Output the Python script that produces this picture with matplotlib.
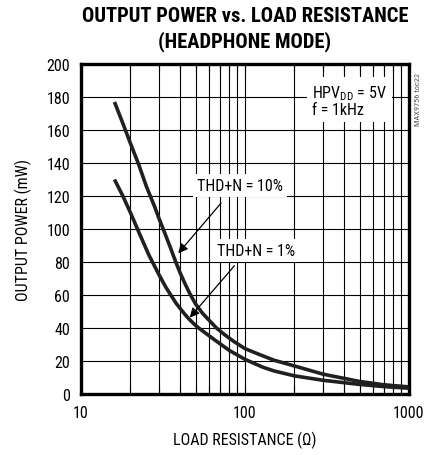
import matplotlib
matplotlib.use("Agg")
import matplotlib.pyplot as plt
from matplotlib import font_manager as fm
from matplotlib.ticker import FixedLocator, NullFormatter

# ---- data ----
R_10 = [16, 18, 20, 22.5, 25, 28, 30, 32, 35, 38, 40, 43, 46, 50, 55, 60, 67, 75, 85, 100, 122, 150, 200, 300, 500, 700, 1000]
P_10 = [177, 164, 152, 139, 126, 114, 106, 99, 89, 79.5, 74, 67, 61, 54.5, 49, 45, 40, 36, 32, 27.5, 24, 20.5, 17, 12, 7.6, 5.6, 4.3]
R_1 = [16, 18, 20, 23, 26, 30, 33, 38, 42, 45, 50, 53, 60, 67, 80, 100, 128, 150, 200, 300, 500, 700, 1000]
P_1 = [130, 120, 110, 96, 84, 72, 64.5, 55, 49.5, 46, 41.5, 39.5, 35.5, 32, 26.5, 21, 16.3, 14, 11, 8.3, 5.8, 4.5, 3.5]
y_ticks = [0, 20, 40, 60, 80, 100, 120, 140, 160, 180, 200]
x_ticks = [10, 100, 1000]
x_ticklabels = ["10", "100", "1000"]

names = {f.name for f in fm.fontManager.ttflist}
narrow = None
for cand in ["Liberation Sans Narrow", "DejaVu Sans Condensed", "Roboto Condensed"]:
    if cand in names:
        narrow = cand
        break
fam = [narrow, "DejaVu Sans"] if narrow else ["DejaVu Sans"]
plt.rcParams["font.family"] = fam
plt.rcParams["mathtext.fontset"] = "custom"
if narrow:
    plt.rcParams["mathtext.rm"] = narrow

ink = "#231f20"
fig = plt.figure(figsize=(4.26, 4.56), dpi=100)
ax = fig.add_axes([81 / 426, 1 - 395 / 456, 328 / 426, 330 / 456])

ax.set_xscale("log")
ax.set_xlim(10, 1000)
ax.set_ylim(0, 200)
ax.xaxis.set_major_locator(FixedLocator(x_ticks))
ax.set_xticklabels(x_ticklabels)
minors = [m * d for d in (10, 100) for m in range(2, 10)]
ax.xaxis.set_minor_locator(FixedLocator(minors))
ax.xaxis.set_minor_formatter(NullFormatter())
ax.yaxis.set_major_locator(FixedLocator(y_ticks))
ax.grid(True, which="both", axis="x", color="black", lw=0.8)
ax.grid(True, which="major", axis="y", color="black", lw=0.8)
ax.set_axisbelow(True)
ax.tick_params(which="both", direction="in", top=True, bottom=True, left=False, right=False,
               length=6, width=0.8, labelsize=11.5, colors="black")
ax.tick_params(axis="x", pad=8)
ax.tick_params(axis="y", pad=8)
for s in ax.spines.values():
    s.set_linewidth(2.4)

ax.plot(R_10, P_10, color=ink, lw=2.6, solid_capstyle="butt", solid_joinstyle="round", zorder=3)
ax.plot(R_1, P_1, color=ink, lw=2.6, solid_capstyle="butt", solid_joinstyle="round", zorder=3)

box = dict(boxstyle="square,pad=0.25", fc="white", ec="none")
ax.annotate("", xy=(38.2, 84), xytext=(73.3, 117),
            arrowprops=dict(arrowstyle="-|>", color="black", lw=0.9, mutation_scale=14), zorder=4)
ax.annotate("", xy=(44.9, 45), xytext=(88.4, 79),
            arrowprops=dict(arrowstyle="-|>", color="black", lw=0.9, mutation_scale=14), zorder=4)
ax.text(92.7, 126.6, "THD+N = 10%", ha="center", va="center", fontsize=11.5, bbox=box, zorder=5)
ax.text(117.5, 87, "THD+N = 1%", ha="center", va="center", fontsize=11.5, bbox=box, zorder=5)

ax.text((312 - 81) / 328, 0.94, "HPV$_{\\mathrm{DD}}$ = 5V\nf = 1kHz", transform=ax.transAxes,
        ha="left", va="top", fontsize=11.5, linespacing=1.0, multialignment="left",
        bbox=dict(boxstyle="square,pad=0.3", fc="white", ec="none"), zorder=5)

fig.text(418 / 426, 1 - 100 / 456, "MAX9756 toc22", rotation=90, ha="center", va="center",
         fontsize=6, color="#555555")

ax.set_xlabel("LOAD RESISTANCE (\u03a9)", fontsize=11.5, labelpad=8)
ax.set_ylabel("OUTPUT POWER (mW)", fontsize=11.5, labelpad=10)

fig.text(245 / 426, 1 - 17 / 456, "OUTPUT POWER vs. LOAD RESISTANCE", ha="center", va="center",
         fontsize=14.8, fontweight="bold")
fig.text(245 / 426, 1 - 42 / 456, "(HEADPHONE MODE)", ha="center", va="center",
         fontsize=14.8, fontweight="bold")

fig.savefig("out.png", dpi=100)
